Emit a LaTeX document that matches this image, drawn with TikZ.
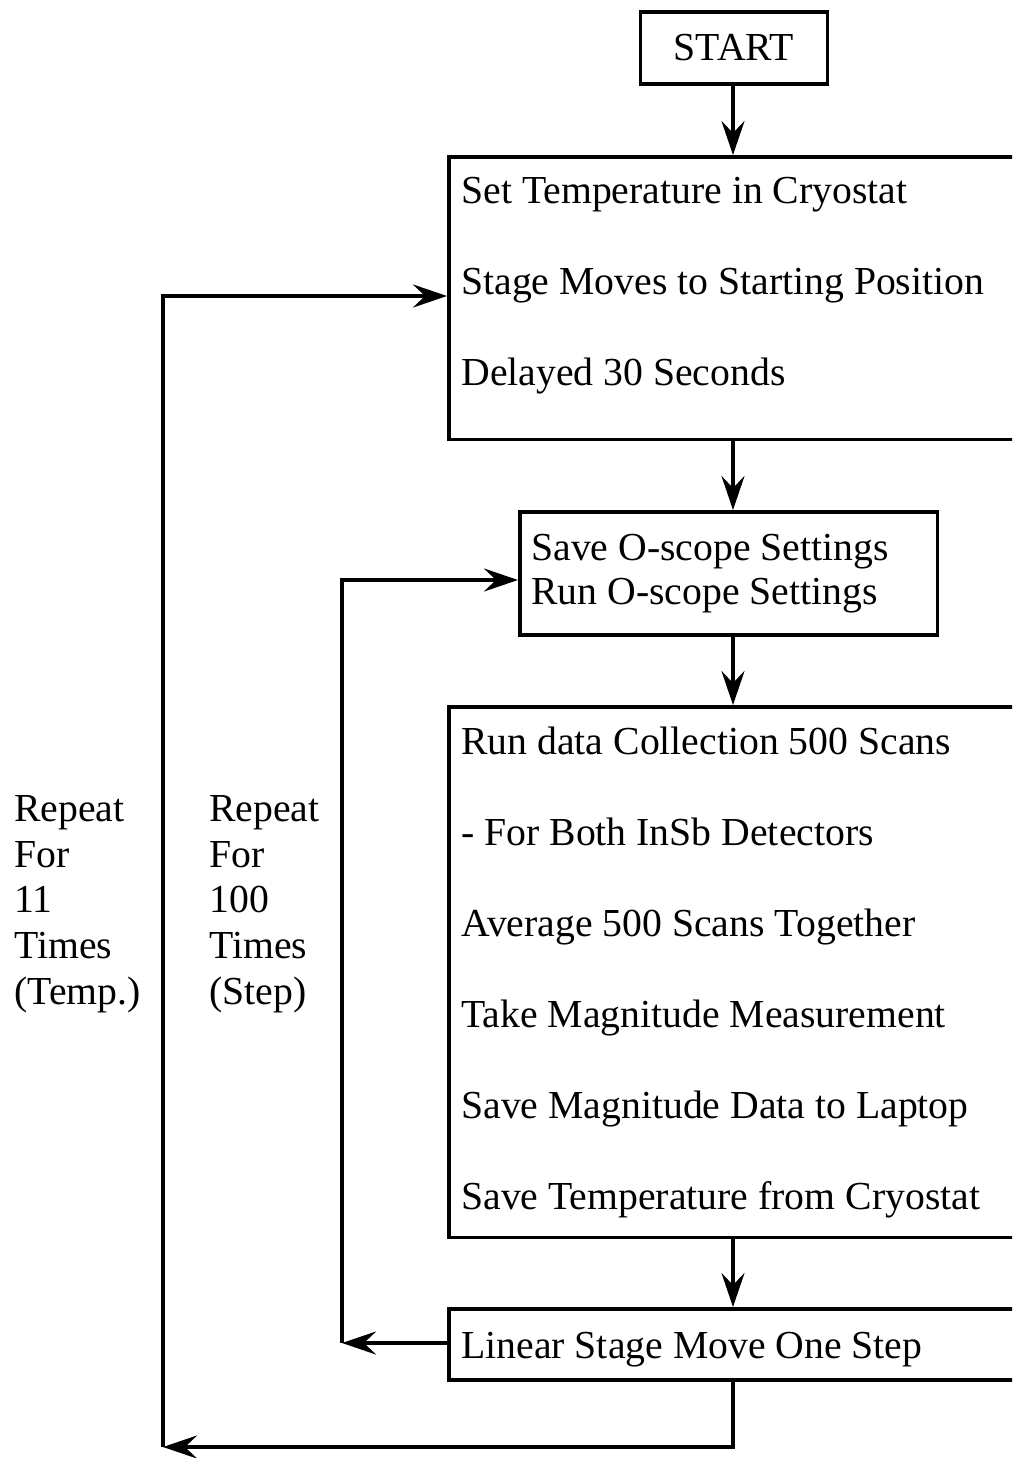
\documentclass[tikz,border=0pt]{standalone}
\usepackage{fontspec}
\setmainfont{Liberation Serif}
\usetikzlibrary{arrows.meta}
\begin{document}
\begin{tikzpicture}[x=0.02cm,y=-0.02cm,
  box/.style={draw, line width=2pt, inner sep=0pt, anchor=north west},
  txt/.style={anchor=base west, inner sep=0pt, font=\fontsize{22.6}{26}\selectfont},
  lbl/.style={anchor=north west, inner sep=0pt, align=left, font=\fontsize{22.6}{26}\selectfont},
  conn/.style={line width=2pt, -{Stealth[length=0.68cm,width=0.46cm,inset=0.24cm]}},
  plain/.style={line width=2pt}]
\useasboundingbox (0,0) rectangle (1012,1458);
\clip (0,0) rectangle (1012,1458);
% boxes
\node[draw, line width=2pt, inner sep=0pt, minimum width=3.74cm, minimum height=1.44cm,
      font=\fontsize{22.6}{26}\selectfont] (start) at (734,48) {START};
\node[box, minimum width=11.86cm, minimum height=5.66cm] (b1) at (447,155) {};
\node[box, minimum width=8.36cm, minimum height=2.46cm] (b2) at (518,510) {};
\node[box, minimum width=11.86cm, minimum height=10.62cm] (b3) at (447,705) {};
\node[box, minimum width=11.86cm, minimum height=1.42cm] (b4) at (447,1307) {};
% texts
\node[txt] (t11) at (461,203) {Set Temperature in Cryostat};
\node[txt] (t12) at (461,294) {Stage Moves to Starting Position};
\node[txt] (t13) at (461,385) {Delayed 30 Seconds};
\node[txt] (t21) at (531,560) {Save O-scope Settings};
\node[txt] (t22) at (531,604) {Run O-scope Settings};
\node[txt] (t31) at (461,754) {Run data Collection 500 Scans};
\node[txt] (t32) at (461,845) {- For Both InSb Detectors};
\node[txt] (t33) at (461,936) {Average 500 Scans Together};
\node[txt] (t34) at (461,1027) {Take Magnitude Measurement};
\node[txt] (t35) at (461,1118) {Save Magnitude Data to Laptop};
\node[txt] (t36) at (461,1209) {Save Temperature from Cryostat};
\node[txt] (t41) at (461,1358) {Linear Stage Move One Step};
% loop labels
\node[lbl] (lt) at (14,795) {Repeat\\For\\11\\Times\\(Temp.)};
\node[lbl] (ls) at (209,795) {Repeat\\For\\100\\Times\\(Step)};
% coordinates
\coordinate (sp) at (733,0);
\coordinate (in2) at (518,580);
\coordinate (in1) at (447,296);
\coordinate (l1) at (342,1343);
\coordinate (l2) at (163,1447);
% main spine
\draw[conn] (start.south -| sp) -- (sp |- b1.north);
\draw[conn] (sp |- b1.south) -- (sp |- b2.north);
\draw[conn] (sp |- b2.south) -- (sp |- b3.north);
\draw[conn] (sp |- b3.south) -- (sp |- b4.north);
% inner loop
\draw[conn] (b4.west |- l1) -- (l1);
\draw[conn] (l1) |- (in2);
% outer loop
\draw[conn] (sp |- b4.south) |- (l2);
\draw[conn] (l2) |- (in1);
\end{tikzpicture}
\end{document}
